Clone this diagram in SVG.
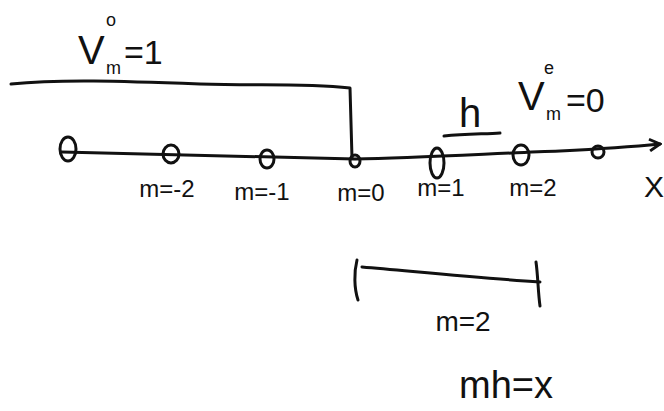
<svg xmlns="http://www.w3.org/2000/svg" width="664" height="411" viewBox="0 0 664 411">
  <style>
    .ink { fill: none; stroke: #111; stroke-width: 3; stroke-linecap: round; stroke-linejoin: round; }
    .pt { fill: none; stroke: #111; stroke-width: 3; }
    .lbl { font-family: "Liberation Sans", Arial, sans-serif; font-size: 24px; fill: #111; text-anchor: middle; }
    .big { font-family: "Liberation Sans", Arial, sans-serif; font-size: 40px; fill: #111; }
    .sm { font-family: "Liberation Sans", Arial, sans-serif; font-size: 18px; fill: #111; }
  </style>
  <defs>
    <marker id="arrow" viewBox="0 0 12 12" refX="10" refY="6" markerWidth="14" markerHeight="14" markerUnits="userSpaceOnUse" orient="auto">
      <path d="M1,1 L10,6 L1,11" fill="none" stroke="#111" stroke-width="2.5"/>
    </marker>
  </defs>

  <!-- connectors: axis, region bracket, spacing mark, bottom segment -->
  <g id="connectors">
    <path class="ink" d="M62,152 C200,155 300,158 355,159 C420,158 500,153 560,151 C600,149 630,147 660,144" marker-end="url(#arrow)"/>
    <path class="ink" d="M11,84 C60,79 120,81 200,84 C260,86 300,83 350,88 L352,158"/>
    <path class="ink" d="M444,136 C465,134 485,134 500,133"/>
    <path class="ink" d="M362,267 C420,272 480,278 540,282"/>
    <path class="ink" stroke-width="4" d="M357,260 C354,272 354,288 358,300"/>
    <path class="ink" d="M536,262 C538,276 538,292 540,306"/>
  </g>

  <!-- grid points along x -->
  <g id="node-m-3"><ellipse class="pt" cx="68" cy="149" rx="8" ry="12"/></g>
  <g id="node-m-2"><ellipse class="pt" cx="171" cy="154" rx="8" ry="9"/></g>
  <g id="node-m-1"><ellipse class="pt" cx="267" cy="159" rx="7" ry="9"/></g>
  <g id="node-m0"><ellipse class="pt" cx="355" cy="161" rx="5" ry="6"/></g>
  <g id="node-m1"><ellipse class="pt" cx="437" cy="163" rx="7" ry="15"/></g>
  <g id="node-m2"><ellipse class="pt" cx="521" cy="155" rx="8" ry="10"/></g>
  <g id="node-m3"><ellipse class="pt" cx="598" cy="152" rx="6" ry="6"/></g>

  <!-- point labels -->
  <g id="labels">
    <text class="lbl" x="167" y="197">m=-2</text>
    <text class="lbl" x="262" y="200">m=-1</text>
    <text class="lbl" x="361" y="201">m=0</text>
    <text class="lbl" x="441" y="196">m=1</text>
    <text class="lbl" x="533" y="196">m=2</text>
    <text class="lbl" x="654" y="197" style="font-size:30px">X</text>
    <text class="lbl" x="463" y="331" style="font-size:28px">m=2</text>
    <text class="lbl" x="506" y="398" style="font-size:38px">mh=x</text>
  </g>

  <!-- boundary values and spacing -->
  <g id="value-left">
    <text class="big" x="78" y="64">V</text>
    <text class="sm" x="106" y="26">o</text>
    <text class="sm" x="106" y="74">m</text>
    <text class="big" x="124" y="64" style="font-size:34px">=1</text>
  </g>
  <g id="spacing-h">
    <text class="big" x="470" y="127" text-anchor="middle">h</text>
  </g>
  <g id="value-right">
    <text class="big" x="518" y="110">V</text>
    <text class="sm" x="544" y="74">e</text>
    <text class="sm" x="546" y="120">m</text>
    <text class="big" x="566" y="112" style="font-size:34px">=0</text>
  </g>
</svg>
